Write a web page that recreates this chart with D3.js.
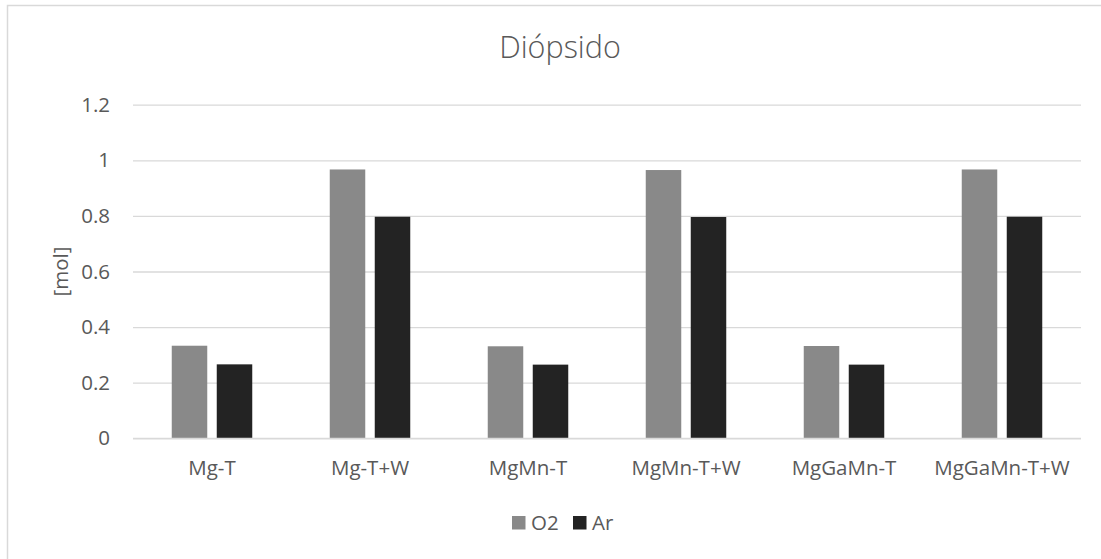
<!DOCTYPE html>
<html>
<head>
<meta charset="utf-8">
<script src="https://cdn.jsdelivr.net/npm/d3@7"></script>
<style>
  html, body { margin: 0; padding: 0; background: #fff; }
  svg { display: block; }
  svg text { font-family: "Open Sans", "Noto Sans", sans-serif; }
</style>
</head>
<body>
<svg id="chart" width="1101" height="559"></svg>
<script>
// Moles of gas per sample (Diópsido)
const categories = ["Mg-T", "Mg-T+W", "MgMn-T", "MgMn-T+W", "MgGaMn-T", "MgGaMn-T+W"];
const seriesNames = ["O2", "Ar"];
const o2Values = [0.333, 0.967, 0.331, 0.965, 0.332, 0.967];
const arValues = [0.266, 0.797, 0.265, 0.796, 0.265, 0.797];
const yTicks = [0, 0.2, 0.4, 0.6, 0.8, 1, 1.2];
const colors = ["#898989", "#232323"];

const svg = d3.select("#chart");
const W = 1101, H = 559;
const plot = { left: 133, right: 1081, top: 104.7, bottom: 438.3 };
const textColor = "#595959";
const fs = 20.5;

// outer chart frame
svg.append("rect")
  .attr("x", 7.5).attr("y", 5.5)
  .attr("width", W).attr("height", H)
  .attr("fill", "#fff").attr("stroke", "#d9d9d9").attr("stroke-width", 1.5);

const x0 = d3.scaleBand().domain(categories).range([plot.left, plot.right]).paddingInner(0).paddingOuter(0);
const x1 = d3.scaleBand().domain(seriesNames).range([0, x0.bandwidth()]).paddingInner(0.211).paddingOuter(0.861);
const y = d3.scaleLinear().domain([0, 1.2]).range([plot.bottom, plot.top]);

// horizontal gridlines + y tick labels
const yAxis = d3.axisLeft(y).tickValues(yTicks).tickSize(-(plot.right - plot.left)).tickPadding(23)
  .tickFormat(d => d3.format("~g")(d));
const gy = svg.append("g").attr("transform", `translate(${plot.left},0)`).call(yAxis);
gy.attr("font-family", null);
gy.select(".domain").remove();
gy.selectAll(".tick line").attr("stroke", "#d9d9d9").attr("stroke-width", 1.3);
gy.selectAll(".tick text").attr("fill", textColor).attr("font-size", fs);

// bars
const data = categories.map((c, i) => ({ cat: c, vals: [o2Values[i], arValues[i]] }));
const groups = svg.append("g").selectAll("g").data(data).join("g")
  .attr("transform", d => `translate(${x0(d.cat)},0)`);
groups.selectAll("rect").data(d => d.vals.map((v, j) => ({ key: seriesNames[j], v, j })))
  .join("rect")
  .attr("x", d => x1(d.key))
  .attr("width", x1.bandwidth())
  .attr("y", d => y(d.v))
  .attr("height", d => y(0) - y(d.v))
  .attr("fill", d => colors[d.j]);

// baseline
svg.append("line").attr("x1", plot.left).attr("x2", plot.right)
  .attr("y1", y(0)).attr("y2", y(0)).attr("stroke", "#d9d9d9").attr("stroke-width", 1.3);

// category axis labels
const xAxis = d3.axisBottom(x0).tickSize(0).tickPadding(22);
const gx = svg.append("g").attr("transform", `translate(0,${plot.bottom})`).call(xAxis);
gx.attr("font-family", null);
gx.select(".domain").remove();
gx.selectAll(".tick text").attr("fill", textColor).attr("font-size", fs);

// title
svg.append("text").attr("x", 560).attr("y", 58).attr("text-anchor", "middle")
  .attr("fill", textColor).attr("font-size", 30.5).attr("font-weight", 300).text("Diópsido");

// y axis title
svg.append("text").attr("transform", `translate(68,271.5) rotate(-90)`)
  .attr("text-anchor", "middle").attr("fill", textColor).attr("font-size", fs).text("[mol]");

// legend
const legend = svg.append("g").attr("transform", "translate(512,516)");
const items = legend.selectAll("g").data(seriesNames).join("g")
  .attr("transform", (d, i) => `translate(${i * 61},0)`);
items.append("rect").attr("width", 13.5).attr("height", 13.5).attr("fill", (d, i) => colors[i]);
items.append("text").attr("x", 19).attr("y", 14).attr("fill", textColor).attr("font-size", fs).text(d => d);
</script>
</body>
</html>
